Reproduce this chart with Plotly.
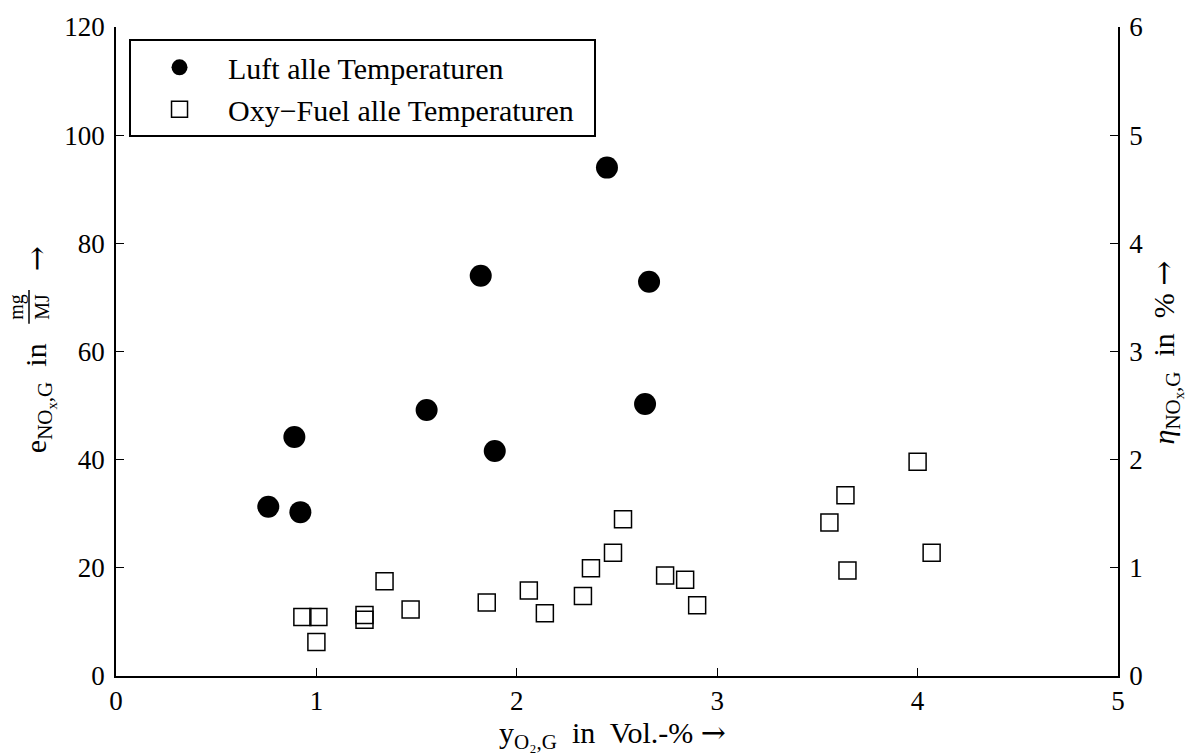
import plotly.graph_objects as go

# Luft (air) – all temperatures
luft_x = [0.76, 0.92, 0.89, 1.55, 1.89, 1.82, 2.45, 2.66, 2.64]
luft_y = [31.3, 30.3, 44.2, 49.2, 41.6, 74.0, 94.0, 72.9, 50.3]

# Oxy-Fuel – all temperatures
oxy_x = [0.93, 1.01, 1.00, 1.24, 1.24, 1.34, 1.47, 1.85, 2.06, 2.14, 2.33,
         2.37, 2.48, 2.53, 2.74, 2.84, 2.90, 3.56, 3.64, 3.65, 4.00, 4.07]
oxy_y = [10.9, 10.9, 6.3, 11.3, 10.4, 17.5, 12.3, 13.6, 15.8, 11.6, 14.8,
         19.9, 22.8, 29.0, 18.6, 17.8, 13.1, 28.4, 33.4, 19.5, 39.6, 22.8]

x_ticks = [0, 1, 2, 3, 4, 5]
y_ticks = [0, 20, 40, 60, 80, 100, 120]
y2_ticks = [0, 1, 2, 3, 4, 5, 6]

FONT = "Liberation Serif"
ARROW = '<span style="font-family:DejaVu Serif">\u2192</span>'
PAD = "\u00a0\u00a0"

fig = go.Figure()
fig.add_trace(go.Scatter(
    x=luft_x, y=luft_y, mode="markers", name="Luft alle Temperaturen" + PAD,
    legendgroup="a",
    marker=dict(symbol="circle", size=22, color="black", line=dict(width=0)),
))
fig.add_trace(go.Scatter(
    x=oxy_x, y=oxy_y, mode="markers", name="Oxy\u2212Fuel alle Temperaturen" + PAD,
    legendgroup="b",
    marker=dict(symbol="square-open", size=17, color="black", line=dict(width=1.5)),
))
# invisible trace to activate the secondary axis
fig.add_trace(go.Scatter(x=[None], y=[None], yaxis="y2", showlegend=False))

axis_common = dict(
    showgrid=False, zeroline=False, showline=True, linecolor="black", linewidth=1.5,
    ticks="inside", ticklen=8, tickwidth=1.2, tickcolor="black",
    tickfont=dict(family=FONT, size=27, color="black"),
)

fig.update_layout(
    width=1189, height=756,
    margin=dict(l=116, r=71, t=22, b=80),
    paper_bgcolor="white", plot_bgcolor="white",
    font=dict(family=FONT, size=27, color="black"),
    xaxis=dict(range=[0, 5], tickvals=x_ticks, ticklabelstandoff=0, **axis_common),
    yaxis=dict(range=[0, 120], tickvals=y_ticks, ticklabelstandoff=4, **axis_common),
    yaxis2=dict(range=[0, 6], tickvals=y2_ticks, overlaying="y", side="right",
                ticklabelstandoff=4, **axis_common),
    legend=dict(
        x=0.013, y=0.981, xanchor="left", yanchor="top",
        bordercolor="black", borderwidth=2, bgcolor="white",
        font=dict(family=FONT, size=30, color="black"),
        tracegroupgap=0, itemsizing="trace", itemwidth=87,
    ),
    showlegend=True,
)

ann_font = dict(family=FONT, size=30, color="black")
fig.add_annotation(
    text="y<sub>O\u2082,G</sub>  in  Vol.-% " + ARROW,
    xref="paper", yref="paper", x=(612 - 116) / 1002, y=(676 - 735) / 654,
    xanchor="center", yanchor="middle", showarrow=False, font=ann_font,
)
# left axis title pieces
fig.add_annotation(
    text="e<sub>NO<sub>x</sub>,G</sub>  in",
    xref="paper", yref="paper", x=(39 - 116) / 1002, y=(676 - 396) / 654,
    xanchor="center", yanchor="middle", textangle=-90, showarrow=False, font=ann_font,
)
fig.add_annotation(
    text="mg<br>MJ",
    xref="paper", yref="paper", x=(29 - 116) / 1002, y=(676 - 304) / 654,
    xanchor="center", yanchor="middle", textangle=-90, showarrow=False,
    font=dict(family=FONT, size=20, color="black"),
)
fig.add_shape(type="line", xref="paper", yref="paper",
              x0=(29 - 116) / 1002, x1=(29 - 116) / 1002,
              y0=(676 - 287) / 654, y1=(676 - 321) / 654,
              line=dict(color="black", width=1.5))
fig.add_annotation(
    text=ARROW,
    xref="paper", yref="paper", x=(36 - 116) / 1002, y=(676 - 256) / 654,
    xanchor="center", yanchor="middle", textangle=-90, showarrow=False, font=ann_font,
)
# right axis title
fig.add_annotation(
    text="<i>\u03b7</i><sub>NO<sub>x</sub>,G</sub>  in  % " + ARROW,
    xref="paper", yref="paper", x=(1167 - 116) / 1002, y=(676 - 350) / 654,
    xanchor="center", yanchor="middle", textangle=-90, showarrow=False, font=ann_font,
)

fig.write_html("out.html")
